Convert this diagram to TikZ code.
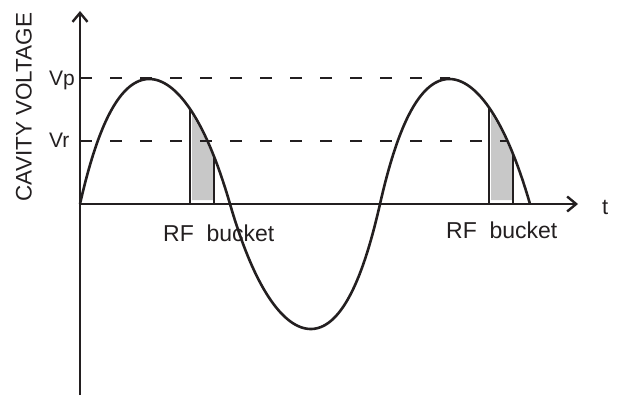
\documentclass[tikz,border=0pt]{standalone}
\usepackage{fontspec}
\setmainfont{Liberation Sans}
\usetikzlibrary{arrows.meta}
\definecolor{ink}{HTML}{231F20}
\definecolor{bucketgray}{HTML}{C8C8C8}
\tikzset{
  axisline/.style={line width=2.6pt, draw=ink, -{Straight Barb[length=9pt,width=15pt,line width=2.4pt]}},
  wave/.style={line width=2.6pt, draw=ink},
  levelline/.style={line width=2pt, draw=ink, dash pattern=on 12pt off 18pt},
  bucketline/.style={line width=1.4pt, draw=ink},
  lbl/.style={font=\fontsize{23}{27}\selectfont, text=ink, inner sep=0pt},
  lvl/.style={font=\fontsize{21}{25}\selectfont, text=ink, inner sep=0pt},
  declare function={
    thl(\x)=1.2*(\x-80);
    th(\x)=thl(\x)+7*sin(thl(\x));
    sv(\x)=sin(th(\x));
    f(\x)=204-125*sv(\x)*1.5/(1+0.5*abs(sv(\x)));
  }
}
\begin{document}
\begin{tikzpicture}[x=1pt,y=-1pt]
\useasboundingbox (0,0) rectangle (617,396);
% key points
\coordinate (o) at (80,204);
\coordinate (ybot) at (80,395);
\coordinate (ytop) at (80,11);
\coordinate (xend) at (578,204);
\coordinate (vp0) at (80,78);
\coordinate (vp1) at (450,78);
\coordinate (vr0) at (80,141);
\coordinate (vr1) at (508,141);
% shaded buckets
\fill[bucketgray] plot[domain=192:213,samples=20] (\x,{f(\x)+3}) -- (213,200) -- (192,200) -- cycle;
\fill[bucketgray] plot[domain=491:512,samples=20] (\x,{f(\x)+3}) -- (512,200) -- (491,200) -- cycle;
\coordinate (b1a) at (190,204); \coordinate (b1at) at (190,{f(190)});
\coordinate (b1b) at (214,204); \coordinate (b1bt) at (214,{f(214)});
\coordinate (b2a) at (489,204); \coordinate (b2at) at (489,{f(489)});
\coordinate (b2b) at (513,204); \coordinate (b2bt) at (513,{f(513)});
\draw[bucketline] (b1a) -- (b1at);
\draw[bucketline] (b1b) -- (b1bt);
\draw[bucketline] (b2a) -- (b2at);
\draw[bucketline] (b2b) -- (b2bt);
% level lines
\draw[levelline] (vp0) -- (vp1);
\draw[levelline] (vr0) -- (vr1);
% wave
\draw[wave] plot[domain=80:530,samples=240,smooth] (\x,{f(\x)});
% axes
\draw[axisline] (ybot) -- (ytop);
\draw[axisline] (o) -- (xend);
% labels
\node[lbl, rotate=90, font=\fontsize{22.5}{27}\selectfont] (ylab) at (24,107) {CAVITY VOLTAGE};
\node[lvl, anchor=base west] (vp) at (49,85) {Vp};
\node[lvl, anchor=base west] (vr) at (49,147) {Vr};
\node[lbl, anchor=base west, font=\fontsize{22}{26}\selectfont] (t) at (602,214) {t};
\node[lbl, anchor=base west] (rf1) at (163,241) {RF\ \ bucket};
\node[lbl, anchor=base west] (rf2) at (446,238) {RF\ \ bucket};
\end{tikzpicture}
\end{document}
